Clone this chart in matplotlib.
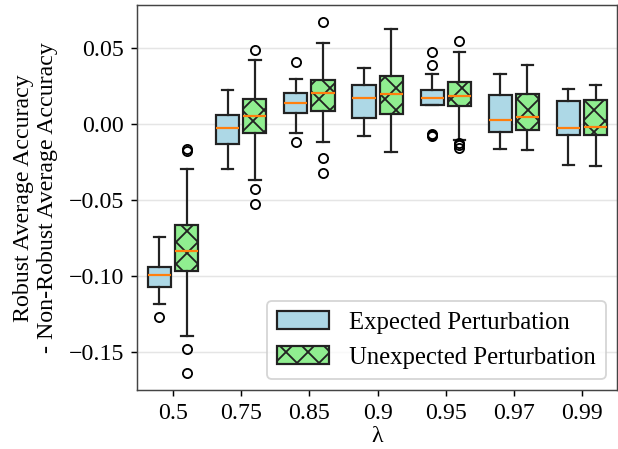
import matplotlib
matplotlib.use('Agg')
import matplotlib.pyplot as plt
import numpy as np

plt.rcParams['font.family'] = ['Liberation Serif', 'DejaVu Serif']
plt.rcParams['font.size'] = 13
plt.rcParams['hatch.linewidth'] = 1.0

# lambda values on the x axis
lambdas = ['0.5', '0.75', '0.85', '0.9', '0.95', '0.97', '0.99']

# Expected perturbation (blue) box stats
exp_med = [-0.0993, -0.0022, 0.0141, 0.0172, 0.0174, 0.0028, -0.0022]
exp_q1 = [-0.1075, -0.0131, 0.0077, 0.0040, 0.0130, -0.0051, -0.0071]
exp_q3 = [-0.0938, 0.0062, 0.0207, 0.0260, 0.0227, 0.0190, 0.0154]
exp_lo = [-0.1183, -0.0296, -0.0058, -0.0075, 0.0128, -0.0166, -0.0270]
exp_hi = [-0.0742, 0.0227, 0.0296, 0.0373, 0.0333, 0.0331, 0.0232]
exp_fliers = [[-0.1273], [], [0.0409, -0.0115], [],
              [0.0475, 0.0389, -0.0064, -0.0070, -0.0077], [], []]

# Unexpected perturbation (green, hatched) box stats
unx_med = [-0.0837, 0.0055, 0.0207, 0.0199, 0.0187, 0.0048, -0.0015]
unx_q1 = [-0.0967, -0.0055, 0.0086, 0.0068, 0.0121, -0.0040, -0.0068]
unx_q3 = [-0.0667, 0.0164, 0.0289, 0.0318, 0.0280, 0.0201, 0.0157]
unx_lo = [-0.1397, -0.0369, -0.0115, -0.0183, -0.0106, -0.0172, -0.0276]
unx_hi = [-0.0296, 0.0424, 0.0534, 0.0631, 0.0479, 0.0393, 0.0258]
unx_fliers = [[-0.0166, -0.0179, -0.1483, -0.1640], [0.0492, -0.0424, -0.0523],
              [0.0675, -0.0221, -0.0323], [], [0.0548, -0.0121, -0.0137, -0.0159], [], []]


def make_stats(med, q1, q3, lo, hi, fl):
    return [dict(med=m, q1=a, q3=b, whislo=l, whishi=h, fliers=f)
            for m, a, b, l, h, f in zip(med, q1, q3, lo, hi, fl)]


dpi = 132
fig = plt.figure(figsize=(618 / dpi, 449 / dpi), dpi=dpi)
ax = fig.add_axes([0.2217, 0.1314, 0.7763, 0.8568])

x = np.arange(len(lambdas))
w = 0.34
edge = '#222222'
common = dict(widths=w, patch_artist=True,
              medianprops=dict(color='#ff7f0e', linewidth=1.2),
              whiskerprops=dict(color=edge, linewidth=1.2),
              capprops=dict(color=edge, linewidth=1.2),
              flierprops=dict(marker='o', markersize=5, markerfacecolor='none',
                              markeredgecolor='black', markeredgewidth=1.0))

b1 = ax.bxp(make_stats(exp_med, exp_q1, exp_q3, exp_lo, exp_hi, exp_fliers),
            positions=x - 0.2, boxprops=dict(facecolor='lightblue', edgecolor=edge, linewidth=1.2),
            manage_ticks=False, **common)
b2 = ax.bxp(make_stats(unx_med, unx_q1, unx_q3, unx_lo, unx_hi, unx_fliers),
            positions=x + 0.2, boxprops=dict(facecolor='lightgreen', edgecolor=edge, linewidth=1.2,
                                             hatch='xx'),
            manage_ticks=False, **common)

ax.set_xticks(x)
ax.set_xticklabels(lambdas)
ax.set_xlim(-0.53, 6.51)
ax.set_ylim(-0.1751, 0.0784)
ax.set_yticks([-0.15, -0.10, -0.05, 0.00, 0.05])
ax.yaxis.set_major_formatter(matplotlib.ticker.FuncFormatter(
    lambda v, p: ('%.2f' % v).replace('-', '\u2212')))
ax.yaxis.grid(True, color='#e5e5e5', linewidth=0.8)
ax.set_axisbelow(True)

for s in ax.spines.values():
    s.set_color('#444444')
ax.tick_params(colors='black', length=3.5)

ax.set_xlabel('λ', labelpad=1)
ax.set_ylabel('Robust Average Accuracy\n- Non-Robust Average Accuracy', labelpad=6)

ax.legend([b1['boxes'][0], b2['boxes'][0]],
          ['Expected Perturbation', 'Unexpected Perturbation'],
          loc='lower right', handlelength=2.1, handleheight=0.75,
          fancybox=True, edgecolor='#cccccc', framealpha=0.8,
          fontsize=13.5, borderaxespad=0.45)

fig.savefig('out.png', dpi=dpi)
